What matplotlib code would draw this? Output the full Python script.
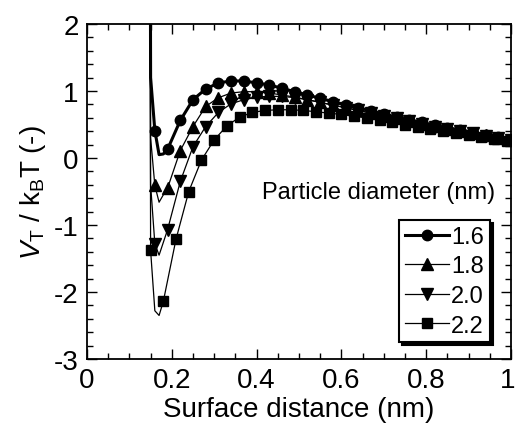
import matplotlib
matplotlib.use("Agg")
import matplotlib.pyplot as plt
import matplotlib.transforms as mtransforms
from matplotlib.ticker import MultipleLocator

plt.rcParams['font.family'] = ['Liberation Sans', 'DejaVu Sans']
plt.rcParams['mathtext.fontset'] = 'custom'
plt.rcParams['mathtext.rm'] = 'Liberation Sans'
plt.rcParams['mathtext.it'] = 'Liberation Sans:italic'

# ---- data ----
labels = ["1.6", "1.8", "2.0", "2.2"]

x_a = [0.14, 0.15, 0.16, 0.17, 0.18, 0.19, 0.22, 0.25, 0.28, 0.31, 0.34, 0.37, 0.40,
       0.43, 0.46, 0.49, 0.52, 0.55, 0.58, 0.61, 0.64, 0.67, 0.70, 0.73, 0.76,
       0.79, 0.82, 0.85, 0.88, 0.91, 0.94, 0.97, 1.00]
x_b = [0.14, 0.15, 0.16, 0.17, 0.18, 0.21, 0.24, 0.27, 0.30, 0.33, 0.36, 0.39, 0.42,
       0.45, 0.48, 0.51, 0.54, 0.57, 0.60, 0.63, 0.66, 0.69, 0.72, 0.75, 0.78,
       0.81, 0.84, 0.87, 0.90, 0.93, 0.96, 0.99]

y_16 = [30.0, 1.2, 0.41, 0.05, 0.06, 0.13, 0.56, 0.87, 1.03, 1.12, 1.15, 1.15, 1.12,
        1.09, 1.04, 0.99, 0.94, 0.89, 0.84, 0.79, 0.75, 0.70, 0.66, 0.61, 0.57,
        0.53, 0.49, 0.45, 0.42, 0.38, 0.34, 0.31, 0.27]
y_18 = [30.0, 0.3, -0.41, -0.66, -0.55, -0.45, 0.11, 0.47, 0.77, 0.90, 0.97, 0.99, 0.99,
        0.97, 0.94, 0.91, 0.87, 0.83, 0.79, 0.75, 0.71, 0.67, 0.63, 0.59, 0.55,
        0.51, 0.48, 0.44, 0.41, 0.37, 0.34, 0.30, 0.27]
y_20 = [30.0, -0.4, -1.28, -1.45, -1.26, -1.07, -0.35, 0.17, 0.47, 0.68, 0.81, 0.87, 0.91,
        0.92, 0.92, 0.90, 0.87, 0.83, 0.79, 0.75, 0.71, 0.67, 0.63, 0.59, 0.55,
        0.51, 0.47, 0.44, 0.40, 0.37, 0.33, 0.30, 0.27]
y_22 = [30.0, -1.38, -2.28, -2.35, -2.14, -1.21, -0.50, -0.03, 0.27, 0.48, 0.61, 0.68, 0.71,
        0.72, 0.72, 0.71, 0.69, 0.67, 0.65, 0.62, 0.60, 0.57, 0.53, 0.50, 0.47,
        0.44, 0.41, 0.38, 0.35, 0.32, 0.29, 0.26]

mark_a = [2] + list(range(5, len(x_a)))
mark_b = [1] + list(range(4, len(x_b)))

fig = plt.figure(figsize=(5.16, 4.35), dpi=100)
ax = fig.add_axes([87/516, 1-360/435, 424/516, 335/435])

ax.plot(x_a, y_16, color='k', lw=2.2, marker='o', ms=7.5, markevery=mark_a, label=labels[0])
ax.plot(x_a, y_18, color='k', lw=0.9, marker='^', ms=8, markevery=mark_a, label=labels[1])
ax.plot(x_a, y_20, color='k', lw=0.9, marker='v', ms=8, markevery=mark_a, label=labels[2])
ax.plot(x_b, y_22, color='k', lw=0.9, marker='s', ms=7, markevery=mark_b, label=labels[3])

ax.set_xlim(0, 1)
ax.set_ylim(-3, 2)
ax.xaxis.set_minor_locator(MultipleLocator(0.05))
ax.yaxis.set_minor_locator(MultipleLocator(0.2))
ax.set_xticks([0, 0.2, 0.4, 0.6, 0.8, 1.0])
ax.set_xticklabels(["0", "0.2", "0.4", "0.6", "0.8", "1"])
ax.set_yticks([-3, -2, -1, 0, 1, 2])
ax.set_yticklabels(["-3", "-2", "-1", "0", "1", "2"])
ax.tick_params(which='both', direction='in', top=True, right=True, labelsize=20, width=1)
ax.tick_params(which='major', length=7, pad=6)
ax.tick_params(which='minor', length=4)
for s in ax.spines.values():
    s.set_linewidth(1.3)

# keep the last x tick label inside the canvas
last = ax.get_xticklabels()[-1]
last.set_horizontalalignment('right')
last.set_transform(last.get_transform() +
                   mtransforms.ScaledTranslation(4/100, 0, fig.dpi_scale_trans))

ax.set_xlabel("Surface distance (nm)", fontsize=20, labelpad=2)
ax.set_ylabel(r"$V_\mathrm{T}$ / k$_\mathrm{B}$T (-)", fontsize=20, labelpad=4)

ax.text(495/516, 1-193/435, "Particle diameter (nm)", transform=fig.transFigure,
        ha='right', va='center', fontsize=17)

leg = ax.legend(loc='upper right', bbox_to_anchor=(490/516, 1-221/435),
                bbox_transform=fig.transFigure, fontsize=17, frameon=True,
                fancybox=False, shadow={'color': 'black', 'alpha': 1},
                handlelength=1.85, handletextpad=0.1, borderpad=0.25,
                labelspacing=0.32, borderaxespad=0)
leg.get_frame().set_edgecolor('black')
leg.get_frame().set_linewidth(1.5)

fig.savefig("out.png", dpi=100)
